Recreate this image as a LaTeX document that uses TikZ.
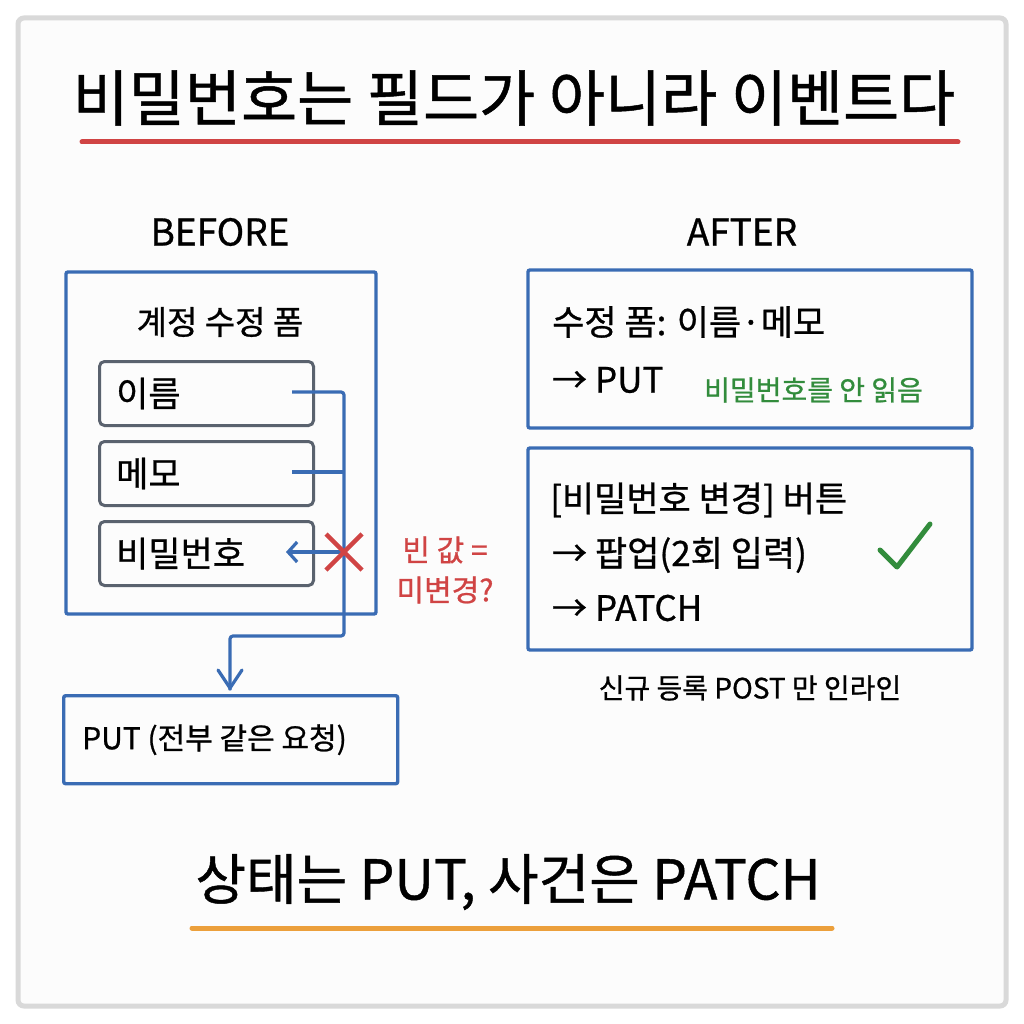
\documentclass[tikz,border=0pt]{standalone}
\usepackage{fontspec}
\setmainfont{Noto Sans CJK KR}[FakeBold=0.8,AutoFakeBold=0.8]
\usetikzlibrary{positioning,calc,arrows.meta}
\definecolor{boxblue}{RGB}{58,108,180}
\definecolor{fieldgrey}{RGB}{90,98,110}
\definecolor{warnred}{RGB}{208,68,68}
\definecolor{okgreen}{RGB}{50,140,60}
\definecolor{lineorange}{RGB}{236,160,60}
\begin{document}
\begin{tikzpicture}[x=1pt,y=-1pt,
  panel/.style={draw=boxblue,line width=3.4pt,rounded corners=2pt},
  field/.style={draw=fieldgrey,line width=3pt,rounded corners=5pt,minimum width=214pt,minimum height=64pt,anchor=north west},
  wire/.style={draw=boxblue,line width=3.2pt},
  txt/.style={font=\fontsize{35}{40}\selectfont,anchor=west,inner sep=0pt}]

\tikzset{head/.style={font=\fontsize{37}{42}\selectfont,inner sep=0pt}}

% Frame
\fill[white] (0,0) rectangle (1024,1024);
\draw[black!15,line width=5pt,rounded corners=6pt,fill=black!1] (18,18) rectangle (1006,1006);

% Title
\node (title) at (514,98) {\fontsize{61}{68}\selectfont\bfseries 비밀번호는 필드가 아니라 이벤트다};
\draw[warnred,line width=5pt,line cap=round] (82,142) -- (958,142);

% Before
\node (before) [head] at (220,232) {BEFORE};
\draw[panel] (66,272) rectangle (376,614);
\node (form) [head,font=\fontsize{33}{38}\selectfont] at (220,322) {계정 수정 폼};
\node (name) [field] at (98,360) {};
\node (memo) [field] at (98,440) {};
\node (pw) [field] at (98,520) {};
\foreach \u/\lab in {name/이름, memo/메모, pw/비밀번호}
  \node[txt] at ($(\u.west)+(18,0)$) {\lab};

\coordinate (bus) at (344,636);
\draw[wire,rounded corners=3pt] (292,392) -| (bus) -| (230,690);
\draw[wire] (292,472) -- (344,472);
\draw[wire,-{Straight Barb[length=9pt,width=20pt]}] (344,552) -- (286,552);
\draw[wire,line cap=round] (218,670) -- (230,688) -- (242,670);
\draw[warnred,line width=4.5pt] (326,534) -- (362,570) (326,570) -- (362,534);
\node (empty) [warnred,font=\fontsize{30}{40}\selectfont,align=center] at (445,570) {빈 값 =\\미변경?};

\node (put) [panel,minimum width=334pt,minimum height=88pt,anchor=north west] at (62,694) {};
\node[txt,font=\fontsize{30}{36}\selectfont] at ($(put.west)+(20,0)$) {PUT (전부 같은 요청)};

% After
\node (after) [head] at (742,232) {AFTER};
\draw[panel] (528,270) rectangle (972,428);
\node[txt] at (552,322) {수정 폼: 이름·메모};
\node[txt] at (552,380) {→ PUT};
\node[txt,okgreen,font=\fontsize{28}{32}\selectfont] at (704,390) {비밀번호를 안 읽음};

\draw[panel] (528,448) rectangle (972,650);
\node[txt] at (550,500) {[비밀번호 변경] 버튼};
\node[txt] at (552,555) {→ 팝업(2회 입력)};
\node[txt] at (552,608) {→ PATCH};
\draw[okgreen,line width=5pt,line cap=round,line join=round] (880,550) -- (897,567) -- (930,524);
\node (post) [font=\fontsize{28}{32}\selectfont] at (750,688) {신규 등록 POST 만 인라인};

% Bottom line
\node (motto) [font=\fontsize{55}{62}\selectfont\bfseries] at (508,882) {상태는 PUT, 사건은 PATCH};
\draw[lineorange,line width=5pt,line cap=round] (192,928) -- (832,928);
\end{tikzpicture}
\end{document}
